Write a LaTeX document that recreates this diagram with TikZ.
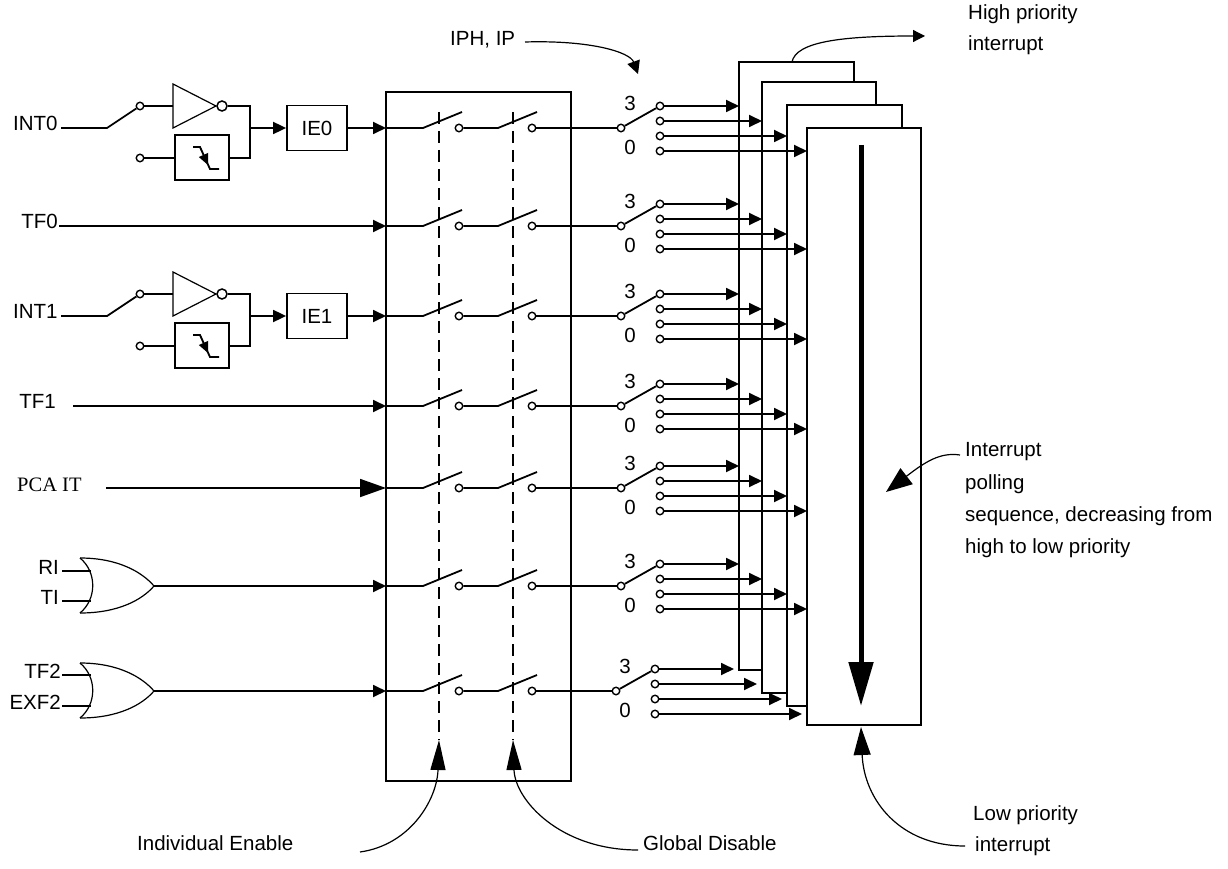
\documentclass[tikz,border=0pt]{standalone}
\usepackage{fontspec}
\setmainfont{Liberation Sans}
\newfontfamily\timesfont{Liberation Serif}
\usetikzlibrary{arrows.meta}
\begin{document}
\begin{tikzpicture}[x=1pt,y=-1pt,
  wire/.style={line width=1.8pt},
  fine/.style={line width=1.2pt},
  arr/.style={wire,-{Triangle[length=13pt,width=12pt]}},
  bigarr/.style={wire,-{Triangle[length=26pt,width=18pt]}},
  pin/.style={circle,draw,line width=1.4pt,fill=white,inner sep=0pt,minimum size=7.5pt},
  lbl/.style={font=\fontsize{20.5}{24}\selectfont,inner sep=0pt},
  stack/.style={draw,wire,fill=white},
  note/.style={fine},
]
\useasboundingbox (0,0) rectangle (1228,869);

% ---------- priority stack ----------
\draw[stack] (739,62) rectangle (854,670);
\draw[stack] (762,82) rectangle (876,693);
\draw[stack] (787,105) rectangle (902,706);
\draw[stack] (807,128) rectangle (921,725);
\coordinate (polltop) at (861,145);
\coordinate (pollbot) at (861,706);
\draw[line width=5pt,-{Triangle[length=44pt,width=24pt]}] (polltop) -- (pollbot);

% ---------- enable box ----------
\draw[wire] (386,92) rectangle (571,781);
\coordinate (ieTop) at (439,112);
\coordinate (ieBot) at (439,740);
\coordinate (gdTop) at (513,112);
\coordinate (gdBot) at (513,740);
\draw[wire,dash pattern=on 12pt off 7pt] (ieTop) -- (ieBot);
\draw[wire,dash pattern=on 12pt off 7pt] (gdTop) -- (gdBot);

% ---------- rows of switches ----------
\foreach \r/\n/\s in {128/1/0,226/2/0,316/3/0,406/4/0,488/5/0,586/6/0,691/7/-5}{
  \coordinate (in\n) at (386,\r);
  \coordinate (sa\n) at (423,\r);
  \coordinate (sb\n) at (498,\r);
  \node[pin] (ca\n) at (459,\r) {};
  \node[pin] (cb\n) at (532,\r) {};
  \draw[wire] (in\n) -- (sa\n) -- ++(39,-16);
  \draw[wire] (ca\n) -- (sb\n) -- ++(39,-16);
  \begin{scope}[xshift=\s pt]
    \node[pin] (pc\n) at (621,\r) {};
    \node[pin] (pa\n) at (660,\r-22) {};
    \node[pin] (pb\n) at (660,\r-7) {};
    \node[pin] (pd\n) at (660,\r+8) {};
    \node[pin] (pe\n) at (660,\r+23) {};
    \coordinate (ta\n) at (739,\r-22);
    \coordinate (tb\n) at (762,\r-7);
    \coordinate (td\n) at (787,\r+8);
    \coordinate (te\n) at (807,\r+23);
    \node[lbl] (three\n) at (630,\r-25) {3};
    \node[lbl] (zero\n) at (630,\r+19) {0};
  \end{scope}
  \draw[wire] (cb\n) -- (pc\n);
  \draw[wire] (pc\n) -- (pa\n);
  \draw[arr] (pa\n) -- (ta\n);
  \draw[arr] (pb\n) -- (tb\n);
  \draw[arr] (pd\n) -- (td\n);
  \draw[arr] (pe\n) -- (te\n);
}

% ---------- external interrupt inputs ----------
\newcommand\extint[4]{% #1 row y, #2 label, #3 IE label, #4 id
  \node[lbl,anchor=west] (lab#4) at (13,#1-5) {#2};
  \coordinate (a#4) at (61,#1);
  \coordinate (k#4) at (107,#1);
  \node[pin] (up#4) at (140,#1-22) {};
  \node[pin] (lo#4) at (140,#1+30) {};
  \draw[wire] (a#4) -- (k#4) -- (up#4);
  \draw[fine] (173,#1-44) -- (173,#1) -- (216,#1-22) -- cycle;
  \node[circle,draw,line width=1.5pt,fill=white,minimum size=10pt,inner sep=0pt] (bub#4) at (222,#1-22) {};
  \draw[wire] (up#4) -- (173,#1-22);
  \node[draw,wire,minimum width=54pt,minimum height=45pt,inner sep=0pt] (edge#4) at (202,#1+29.5) {};
  \draw[wire] (lo#4) -- (edge#4.west |- lo#4);
  \coordinate (j#4) at (250,#1);
  \draw[wire] (bub#4) -- (250,#1-22) -- (250,#1+30) -- (edge#4.east |- lo#4);
  \draw[wire] (193,#1+19) -- (200,#1+19) -- (210,#1+41) -- (219,#1+41);
  \draw[fine,-{Triangle[length=11pt,width=10pt]}] (200,#1+19) -- (208,#1+37);
  \node[draw,wire,minimum width=60pt,minimum height=45pt,lbl] (ie#4) at (317,#1) {#3};
  \draw[arr] (j#4) -- (ie#4.west);
  \draw[arr] (ie#4.east) -- (in#4);
}
\extint{128}{INT0}{IE0}{1}
\extint{316}{INT1}{IE1}{3}

% TF0
\node[lbl,anchor=east] (labTF0) at (58,221) {TF0};
\coordinate (sTF0) at (59,226);
\draw[arr] (sTF0) -- (in2);
% TF1
\node[lbl,anchor=east] (labTF1) at (56,401) {TF1};
\coordinate (sTF1) at (73,406);
\draw[arr] (sTF1) -- (in4);
% PCA IT
\node[lbl,anchor=west,font=\timesfont\fontsize{20.5}{24}\selectfont] (labPCA) at (17,485) {PCA IT};
\coordinate (sPCA) at (106,488);
\draw[bigarr] (sPCA) -- (in5);

% OR gates
\newcommand\orgate[6]{% #1 top y, #2 bottom y, #3 out y, #4 in1 y, #5 in2 y, #6 id
  \draw[fine] (80,#1) .. controls (97,#1+14) and (97,#2-14) .. (80,#2);
  \draw[fine] (80,#1) .. controls (118,#1) and (142,#3-14) .. (154,#3);
  \draw[fine] (80,#2) .. controls (118,#2) and (142,#3+14) .. (154,#3);
  \coordinate (out#6) at (154,#3);
  \coordinate (ia#6) at (62,#4);
  \coordinate (ib#6) at (62,#5);
  \draw[wire] (ia#6) -- (91,#4);
  \draw[wire] (ib#6) -- (91,#5);
}
\orgate{558}{613}{586}{571}{601}{6}
\node[lbl,anchor=east] (labRI) at (59,567) {RI};
\node[lbl,anchor=east] (labTI) at (59,597) {TI};
\draw[arr] (out6) -- (in6);

\orgate{663}{718}{691}{675}{706}{7}
\node[lbl,anchor=east] (labTF2) at (61,671) {TF2};
\node[lbl,anchor=east] (labEXF2) at (61,702) {EXF2};
\draw[arr] (out7) -- (in7);

% ---------- annotations ----------
\node[lbl,anchor=west] (iph) at (450,40) {IPH, IP};
\coordinate (iphS) at (525,42);
\coordinate (iphT) at (638,74);
\draw[note,-{Triangle[length=13pt,width=13pt]}] (iphS) .. controls (590,40) and (630,52) .. (iphT);

\node[lbl,anchor=west] (hp1) at (968,14) {High priority};
\node[lbl,anchor=west] (hp2) at (968,45) {interrupt};
\coordinate (hpS) at (792,62);
\coordinate (hpT) at (925,36);
\draw[note,-{Triangle[length=12pt,width=12pt]}] (hpS) .. controls (796,42) and (840,36) .. (hpT);

\node[lbl,anchor=west] (ip1) at (965,452) {Interrupt};
\node[lbl,anchor=west] (ip2) at (965,484) {polling};
\node[lbl,anchor=west] (ip3) at (965,516) {sequence, decreasing from};
\node[lbl,anchor=west] (ip4) at (965,548) {high to low priority};
\coordinate (ipS) at (960,455);
\coordinate (ipT) at (886,492);
\draw[note,-{Triangle[length=26pt,width=20pt]}] (ipS) .. controls (940,452) and (925,462) .. (ipT);

\node[lbl,anchor=west] (lp1) at (973,815) {Low priority};
\node[lbl,anchor=west] (lp2) at (975,846) {interrupt};
\coordinate (lpS) at (965,846);
\coordinate (lpT) at (861,727);
\draw[note,-{Triangle[length=28pt,width=17pt]}] (lpS) .. controls (900,846) and (864,800) .. (lpT);

\node[lbl,anchor=west] (ien) at (137,843) {Individual Enable};
\coordinate (ieS) at (360,852);
\draw[note,-{Triangle[length=30pt,width=15pt]}] (ieS) .. controls (410,845) and (437,800) .. (ieBot);

\node[lbl,anchor=west] (gdis) at (643,843) {Global Disable};
\coordinate (gdS) at (638,850);
\draw[note,-{Triangle[length=30pt,width=15pt]}] (gdS) .. controls (560,850) and (515,800) .. (gdBot);
\end{tikzpicture}
\end{document}
